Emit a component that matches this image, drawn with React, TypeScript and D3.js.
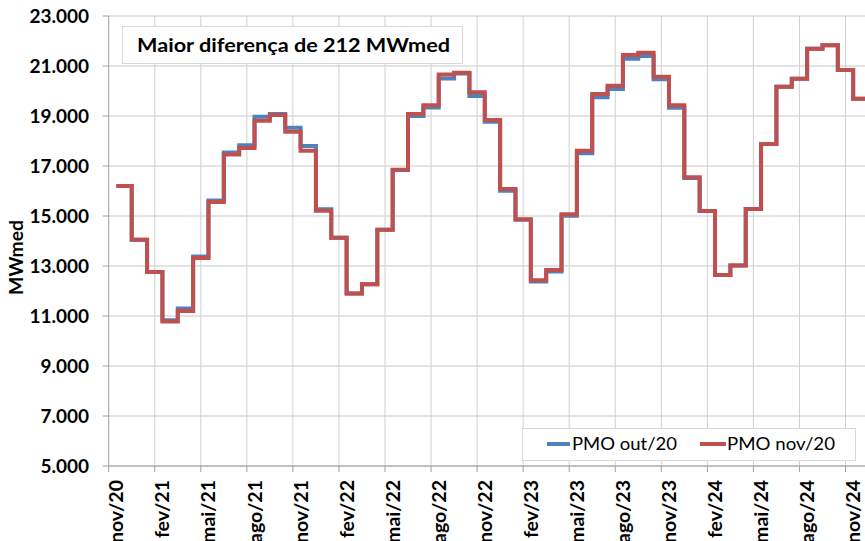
import React from "react";
import * as d3 from "d3";

const monthNames = ["jan", "fev", "mar", "abr", "mai", "jun", "jul", "ago", "set", "out", "nov", "dez"];
// categories nov/20 .. dez/24 (last one only for the closing step)
const categories: string[] = [];
for (let k = 0; k < 50; k++) {
  const m = (10 + k) % 12;
  const y = 20 + Math.floor((10 + k) / 12);
  categories.push(`${monthNames[m]}/${y}`);
}

const pmoOut20 = [
  16200, 14050, 12760, 10830, 11300, 13380, 15620, 17540, 17830, 18970, 19080, 18530,
  17800, 15270, 14130, 11900, 12270, 14450, 16840, 19000, 19340, 20500, 20700, 19800,
  18770, 16010, 14850, 12380, 12780, 15010, 17510, 19750, 20080, 21290, 21400, 20470,
  19330, 16520, 15200, 12640, 13020, 15280, 17880, 20170, 20490, 21690, 21830, 20840,
  19690,
];
const pmoNov20 = [
  16200, 14050, 12760, 10780, 11200, 13320, 15560, 17460, 17720, 18810, 19040, 18370,
  17610, 15210, 14130, 11900, 12270, 14450, 16850, 19080, 19430, 20660, 20730, 19950,
  18840, 16080, 14870, 12430, 12840, 15070, 17610, 19880, 20210, 21440, 21530, 20570,
  19430, 16550, 15200, 12640, 13020, 15280, 17880, 20170, 20490, 21690, 21830, 20840,
  19690,
];
const yTicks = [5000, 7000, 9000, 11000, 13000, 15000, 17000, 19000, 21000, 23000];
const titleText = "Maior diferença de 212 MWmed";
const seriesNames = ["PMO out/20", "PMO nov/20"];
const seriesColors = ["#4F81BD", "#C0504D"];

const W = 865;
const H = 541;
const left = 108.7;
const top = 16;
const bottom = 466;
const monthW = 15.35;

export default function App() {
  const x = d3
    .scaleBand<string>()
    .domain(categories)
    .range([left, left + categories.length * monthW])
    .padding(0);
  const y = d3.scaleLinear().domain([5000, 23000]).range([bottom, top]);
  const right = left + categories.length * monthW;

  const center = (i: number) => (x(categories[i]) as number) + x.bandwidth() / 2;

  const makePath = (vals: number[]) => {
    const pts: [number, number][] = vals.map((v, i) => [center(i), y(v)]);
    pts.push([center(vals.length), y(vals[vals.length - 1])]);
    return d3.line().curve(d3.curveStepAfter)(pts) as string;
  };

  const tickIdx = categories.map((_, i) => i).filter((i) => i % 3 === 0);
  const font = "Lato, 'Open Sans', sans-serif";

  return (
    <svg
      width={W}
      height={H}
      style={{ position: "absolute", left: 0, top: 0, background: "#fff" }}
      fontFamily={font}
    >
      <rect x={0} y={0} width={W} height={H} fill="#fff" />
      {/* horizontal grid */}
      {yTicks.map((t) => (
        <line key={"h" + t} x1={left} x2={right} y1={y(t)} y2={y(t)} stroke="#c8c8c8" strokeWidth={1} />
      ))}
      {/* vertical grid */}
      {tickIdx.map((i) =>
        i === 0 ? null : (
          <line
            key={"v" + i}
            x1={x(categories[i]) as number}
            x2={x(categories[i]) as number}
            y1={top}
            y2={bottom}
            stroke="#d0d0d0"
            strokeWidth={1}
          />
        )
      )}
      {/* axes */}
      <line x1={left} x2={left} y1={top} y2={bottom} stroke="#a0a0a0" strokeWidth={1} />
      <line x1={left} x2={right} y1={bottom} y2={bottom} stroke="#a0a0a0" strokeWidth={1} />
      {yTicks.map((t) => (
        <line key={"yt" + t} x1={left - 6} x2={left} y1={y(t)} y2={y(t)} stroke="#a0a0a0" />
      ))}
      {tickIdx.map((i) => (
        <line
          key={"xt" + i}
          x1={x(categories[i]) as number}
          x2={x(categories[i]) as number}
          y1={bottom}
          y2={bottom + 6}
          stroke="#a0a0a0"
        />
      ))}
      {/* y tick labels */}
      {yTicks.map((t) => (
        <text
          key={"yl" + t}
          x={89}
          y={y(t)}
          dy="0.36em"
          textAnchor="end"
          fontSize={19}
          fontWeight="bold"
          fill="#000"
        >
          {d3.format(",")(t).replace(/,/g, ".")}
        </text>
      ))}
      {/* x tick labels */}
      {tickIdx.map((i) => {
        const cx = center(i);
        return (
          <text
            key={"xl" + i}
            transform={`translate(${cx + 7},480) rotate(-90)`}
            textAnchor="end"
            fontSize={19.5}
            fontWeight="bold"
            fill="#000"
          >
            {categories[i]}
          </text>
        );
      })}
      {/* y title */}
      <text
        transform={`translate(23,257.5) rotate(-90)`}
        textAnchor="middle"
        fontSize={19}
        fontWeight="bold"
        fill="#000"
        textLength={75}
        lengthAdjust="spacingAndGlyphs"
      >
        MWmed
      </text>
      {/* lines */}
      <path d={makePath(pmoOut20)} fill="none" stroke={seriesColors[0]} strokeWidth={4} strokeLinejoin="miter" />
      <path d={makePath(pmoNov20)} fill="none" stroke={seriesColors[1]} strokeWidth={4} strokeLinejoin="miter" />
      {/* title box */}
      <rect x={122.5} y={26.5} width={340} height={37} fill="#fff" stroke="#d9d9d9" />
      <text
        x={137}
        y={45}
        dy="0.35em"
        fontSize={19}
        fontWeight="bold"
        fill="#000"
        textLength={313}
        lengthAdjust="spacingAndGlyphs"
      >
        {titleText}
      </text>
      {/* legend */}
      <rect x={522.5} y={428.5} width={333} height={32} fill="#fff" stroke="#d9d9d9" />
      <line x1={547} x2={570} y1={444} y2={444} stroke={seriesColors[0]} strokeWidth={4} />
      <text x={572} y={444} dy="0.35em" fontSize={18} fill="#000" textLength={105} lengthAdjust="spacingAndGlyphs">
        {seriesNames[0]}
      </text>
      <line x1={700} x2={726} y1={444} y2={444} stroke={seriesColors[1]} strokeWidth={4} />
      <text x={727} y={444} dy="0.35em" fontSize={18} fill="#000" textLength={108} lengthAdjust="spacingAndGlyphs">
        {seriesNames[1]}
      </text>
    </svg>
  );
}
